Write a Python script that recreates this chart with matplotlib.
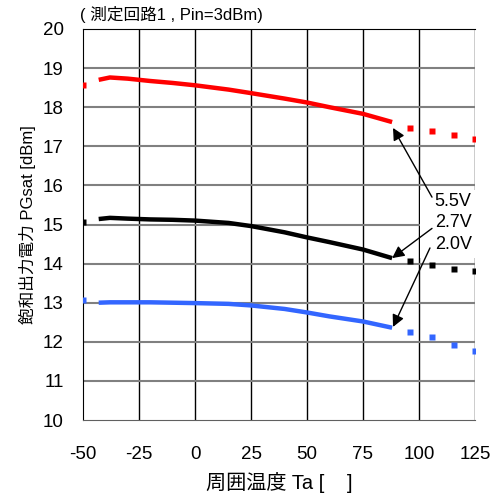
import matplotlib
matplotlib.use("Agg")
import matplotlib.pyplot as plt
from matplotlib.patches import Rectangle

plt.rcParams['font.family'] = ['Liberation Sans', 'Noto Sans CJK JP', 'DejaVu Sans']
plt.rcParams['axes.unicode_minus'] = False

# measured data (solid part)
temp_solid = [-43, -38, -30, -20, -10, 0, 15, 25, 40, 50, 60, 75, 88]
p55_solid = [18.70, 18.76, 18.73, 18.67, 18.62, 18.56, 18.45, 18.36, 18.22, 18.12, 18.00, 17.83, 17.62]
p27_solid = [15.14, 15.17, 15.15, 15.13, 15.12, 15.10, 15.04, 14.96, 14.80, 14.67, 14.55, 14.36, 14.14]
p20_solid = [13.00, 13.01, 13.01, 13.01, 13.00, 12.99, 12.97, 12.93, 12.84, 12.75, 12.65, 12.52, 12.36]

# dotted part (extrapolated points)
temp_dot = [-50, 96, 106, 115.5, 125]
p55_dot = [18.57, 17.47, 17.39, 17.29, 17.19]
p27_dot = [15.06, 14.07, 13.96, 13.86, 13.81]
p20_dot = [13.07, 12.25, 12.12, 11.92, 11.77]

labels = ['5.5V', '2.7V', '2.0V']
label_y = [15.58, 15.06, 14.48]
colors = {'5.5V': '#ff0000', '2.7V': '#000000', '2.0V': '#3366ff'}

fig = plt.figure(figsize=(4.98, 4.99), dpi=100)
ax = fig.add_axes([0.1667, 0.1583, 0.7871, 0.7836])

for ys, yd, key in [(p55_solid, p55_dot, '5.5V'), (p27_solid, p27_dot, '2.7V'), (p20_solid, p20_dot, '2.0V')]:
    ax.plot(temp_solid, ys, color=colors[key], lw=3.2, solid_capstyle='butt', zorder=3)
    ax.plot(temp_dot, yd, 's', color=colors[key], ms=4.5, mec='none', zorder=3)

ax.set_xlim(-50, 125)
ax.set_ylim(10, 20)
ax.set_xticks(range(-50, 126, 25))
ax.set_yticks(range(10, 21))
ax.tick_params(length=0, labelsize=13.5)
ax.tick_params(axis='x', pad=19)
ax.tick_params(axis='y', pad=14)

for x in range(-25, 126, 25):
    ax.axvline(x, color='black', lw=1.0, zorder=1)
for y in range(11, 20):
    ax.axhline(y, color='#808080', lw=1.5, zorder=1)
for s in ['left', 'top']:
    ax.spines[s].set_color('black')
ax.spines['bottom'].set_color('#606060')
ax.spines['right'].set_visible(False)

ax.set_xlabel('周囲温度 Ta [    ]', fontsize=14.5, labelpad=6)
ax.set_ylabel('飽和出力電力 PGsat [dBm]', fontsize=12, labelpad=5)
fig.text(0.161, 0.970, '( 測定回路1 , Pin=3dBm)', fontsize=12, va='center')

# white label box covering the grid
ax.add_patch(Rectangle((100.6, 14.15), 25.4, 1.72, facecolor='white', edgecolor='none',
                       zorder=4, clip_on=False))
for lab, ly in zip(labels, label_y):
    ax.text(107, ly, lab, fontsize=13, va='center', ha='left', zorder=5)

arrows = [((105.8, 15.7), (88.4, 17.47)),
          ((105.8, 14.9), (88.0, 14.14)),
          ((104.9, 14.4), (88.4, 12.38))]
for tail, head in arrows:
    ax.annotate('', xy=head, xytext=tail, zorder=6,
                arrowprops=dict(arrowstyle='-|>', color='black', lw=1.0,
                                mutation_scale=18, shrinkA=0, shrinkB=0))

fig.savefig('out.png', dpi=100)
